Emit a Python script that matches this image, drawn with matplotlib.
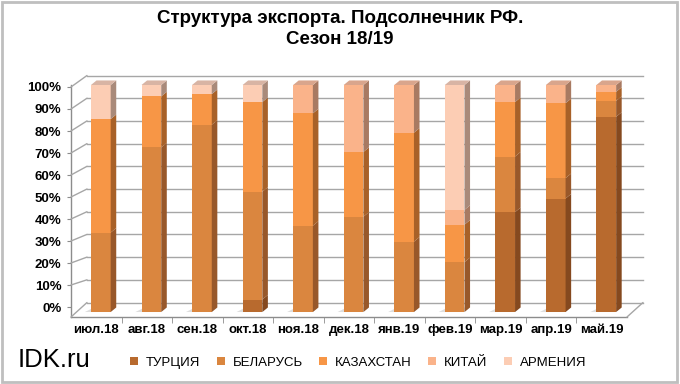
import matplotlib
matplotlib.use("Agg")
import matplotlib.pyplot as plt
from matplotlib.patches import Polygon, Rectangle, ConnectionPatch
from matplotlib.transforms import ScaledTranslation

plt.rcParams['font.family'] = ['Liberation Sans', 'DejaVu Sans']

# data (shares, %)
months = ['июл.18', 'авг.18', 'сен.18', 'окт.18', 'ноя.18', 'дек.18',
          'янв.19', 'фев.19', 'мар.19', 'апр.19', 'май.19']
turkey = [0, 0, 0, 5.5, 0, 0, 0, 0, 44, 50, 86]
belarus = [35, 72.5, 82.5, 47.5, 38, 42, 31, 22, 24.5, 9, 7]
kazakhstan = [50, 22.5, 13.5, 39.5, 49.5, 28.5, 48, 16.5, 24, 33, 4]
china = [0, 0, 0, 0, 12.5, 29.5, 21, 6.5, 7.5, 8, 3]
armenia = [15, 5, 4, 7.5, 0, 0, 0, 55, 0, 0, 0]

series = [turkey, belarus, kazakhstan, china, armenia]
names = ['ТУРЦИЯ', 'БЕЛАРУСЬ', 'КАЗАХСТАН', 'КИТАЙ', 'АРМЕНИЯ']
front_cols = ['#B86A2E', '#DA863F', '#F79646', '#FAB38A', '#FCCDB4']
side_cols = ['#85491F', '#98582A', '#A86128', '#A87A62', '#A98A7A']
top_cols = ['#C98A55', '#E09A60', '#F5A86A', '#D9A58C', '#D8B4A4']

fig = plt.figure(figsize=(6.8, 3.84), dpi=100)
rect = [71 / 680, 67 / 384, 556 / 680, 232 / 384]

# front frame (axis lines, tick labels)
fr = fig.add_axes(rect)
fr.set_xlim(-0.5, 10.5)
fr.set_ylim(-4.545, 100.909)
fr.patch.set_alpha(0)
for s in ['top', 'right']:
    fr.spines[s].set_visible(False)
for s in ['left', 'bottom']:
    fr.spines[s].set_color('#8C8C8C')
    fr.spines[s].set_linewidth(1)
fr.set_yticks(range(0, 101, 10))
fr.set_yticklabels([f'{v}%' for v in range(0, 101, 10)], fontsize=9.5, fontweight='bold')
fr.tick_params(axis='y', length=3, color='#8C8C8C', pad=4)
fr.set_xticks(range(len(months)))
fr.set_xticklabels(months, fontsize=9.5, fontweight='bold')
fr.set_xticks([i + 0.5 for i in range(len(months) - 1)], minor=True)
fr.tick_params(axis='x', which='major', length=0, pad=5)
fr.tick_params(axis='x', which='minor', length=4, color='#8C8C8C')

# bar plane
ax = fig.add_axes(rect)
ax.set_xlim(-0.5, 10.5)
ax.set_ylim(-2.2, 100)
ax.axis('off')
ax.patch.set_alpha(0)

back = ax.transData + ScaledTranslation(0.16, 0.095, fig.dpi_scale_trans)

# back wall gridlines
for v in range(0, 101, 10):
    ax.plot([-0.5, 10.5], [v, v], color='#A6A6A6', lw=1, transform=back,
            clip_on=False, zorder=1)
    y0 = v if v > 0 else fr.get_ylim()[0]
    con = ConnectionPatch(xyA=(-0.5, y0), coordsA=fr.transData,
                          xyB=(-0.5, v), coordsB=back,
                          color='#A6A6A6', lw=1, zorder=1)
    fig.add_artist(con)
con = ConnectionPatch(xyA=(10.5, fr.get_ylim()[0]), coordsA=fr.transData,
                      xyB=(10.5, 0), coordsB=back, color='#A6A6A6', lw=1)
fig.add_artist(con)

# bars
xs = [i + 0.09 for i in range(len(months))]
w = 0.39
dx, dy = 0.11, 2.0

# floor shadows
for x in xs:
    sh = Polygon([(x - w / 2 - 0.12, 0), (x + w / 2, 0), (x + w / 2 + dx, dy),
                  (x - w / 2 + dx - 0.05, dy)], closed=True, fc='#D0D0D0',
                 ec='none', zorder=2, clip_on=False, alpha=0.7)
    ax.add_patch(sh)

bottoms = [0] * len(months)
handles = []
for k, vals in enumerate(series):
    bc = ax.bar(xs, vals, w, bottom=bottoms, color=front_cols[k], zorder=3,
                label=names[k], clip_on=False)
    handles.append(bc)
    for i, (x, v, b) in enumerate(zip(xs, vals, bottoms)):
        if v <= 0:
            continue
        x1 = x + w / 2
        side = Polygon([(x1, b), (x1 + dx, b + dy), (x1 + dx, b + v + dy), (x1, b + v)],
                       closed=True, fc=side_cols[k], ec='none', zorder=3, clip_on=False)
        ax.add_patch(side)
    bottoms = [b + v for b, v in zip(bottoms, vals)]

# top faces
for i, x in enumerate(xs):
    k = max(j for j in range(len(series)) if series[j][i] > 0)
    x0, x1 = x - w / 2, x + w / 2
    top = Polygon([(x0, 100), (x1, 100), (x1 + dx, 100 + dy), (x0 + dx, 100 + dy)],
                  closed=True, fc=top_cols[k], ec='none', zorder=4, clip_on=False)
    ax.add_patch(top)

fig.suptitle('Структура экспорта. Подсолнечник РФ.\nСезон 18/19',
             x=0.5, y=0.975, fontsize=13.5, fontweight='bold', linespacing=1.3)

fig.text(0.026, 0.045, 'IDK.ru', fontsize=18.5)

fig.legend(handles=handles, labels=names, loc='center', bbox_to_anchor=(0.527, 0.055),
           ncol=5, frameon=False, fontsize=9.5, handlelength=0.6, handleheight=0.6,
           handletextpad=0.6, columnspacing=1.25)

fig.patches.append(Rectangle((0.003, 0.005), 0.993, 0.99, transform=fig.transFigure,
                             fill=False, ec='#BFBFBF', lw=2))

fig.savefig('out.png', dpi=100)
